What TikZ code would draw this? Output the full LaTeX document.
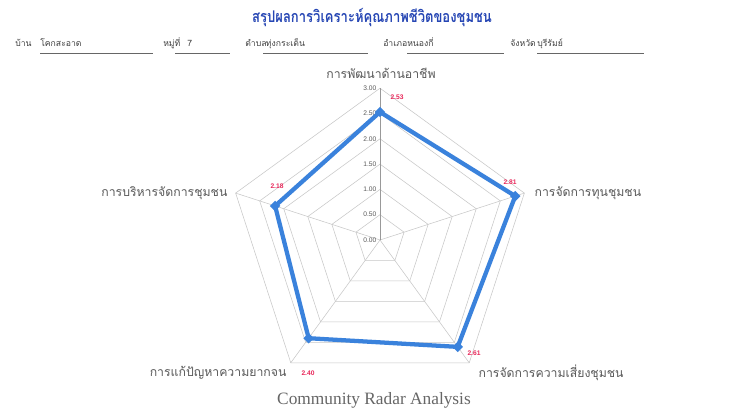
\documentclass[tikz,border=0pt]{standalone}
\usepackage{fontspec}
\usetikzlibrary{shapes.geometric}
\newfontfamily\thaifont[Script=Thai]{Loma}
\newfontfamily\numfont{Liberation Sans}
\newfontfamily\capfont{Liberation Serif}
\definecolor{chartblue}{RGB}{58,130,220}
\definecolor{titleblue}{RGB}{38,70,180}
\definecolor{valred}{RGB}{232,40,90}

\begin{document}
\begin{tikzpicture}[x=0.75pt,y=0.75pt]
	\tikzstyle{grid}=[draw=black!22,line width=0.4pt]
	\tikzstyle{axislabel}=[font=\thaifont\fontsize{9.2}{10}\selectfont,text=black!65,inner sep=1pt]
	\tikzstyle{head}=[font=\thaifont\fontsize{6.5}{8}\selectfont,text=black!75,inner sep=0pt,anchor=base west]
	\tikzstyle{uline}=[draw=black!60,line width=0.5pt]
	\tikzstyle{val}=[font=\numfont\bfseries\fontsize{5}{6}\selectfont,text=valred,inner sep=1pt]
	\tikzstyle{tick}=[font=\numfont\fontsize{5}{6}\selectfont,text=black!65,inner sep=1pt,anchor=east]
	\tikzstyle{point}=[diamond,fill=chartblue,inner sep=0pt,minimum size=8pt]
	\tikzstyle{dataline}=[draw=chartblue,line width=3.2pt,line join=round]
	\useasboundingbox (0,0) rectangle (741,408);
	\fill[white] (0,0) rectangle (741,408);
	% title and header
	\node[font=\thaifont\bfseries\fontsize{11.5}{14}\selectfont,text=titleblue] (title) at (372,390) {\scalebox{0.85}[1.05]{สรุปผลการวิเคราะห์คุณภาพชีวิตของชุมชน}};
	\node[head] (h1) at (15,361) {บ้าน};
	\node[head,text width=84pt,align=left] (f1) at (40,361) {โคกสะอาด};
	\node[head] (h2) at (163,361) {หมู่ที่};
	\node[head,text width=41pt,align=left] (f2) at (175,361) {\hspace*{9pt}7};
	\node[head] (h3) at (245,361) {ตำบล};
	\node[head,text width=78pt,align=left] (f3) at (263,361) {\hspace*{2pt}ทุ่งกระเต็น};
	\node[head] (h4) at (383,361) {อำเภอ};
	\node[head,text width=72pt,align=left] (f4) at (407,361) {หนองกี่};
	\node[head] (h5) at (510,361) {จังหวัด};
	\node[head,text width=79.5pt,align=left] (f5) at (537,361) {บุรีรัมย์};
	\draw[uline] ([yshift=-4.5pt]f1.base west) -- ([yshift=-4.5pt]f1.base east);
	\draw[uline] ([yshift=-4.5pt]f2.base west) -- ([yshift=-4.5pt]f2.base east);
	\draw[uline] ([yshift=-4.5pt]f3.base west) -- ([yshift=-4.5pt]f3.base east);
	\draw[uline] ([yshift=-4.5pt]f4.base west) -- ([yshift=-4.5pt]f4.base east);
	\draw[uline] ([yshift=-4.5pt]f5.base west) -- ([yshift=-4.5pt]f5.base east);
	% radar
	\begin{scope}[shift={(380,168)}]
		\foreach \r in {25.3,50.6,75.9,101.2,126.5,151.8}
			\draw[grid] (90:\r) -- (18:\r) -- (-54:\r) -- (-126:\r) -- (162:\r) -- cycle;
		\foreach \a in {18,-54,-126,162}
			\draw[grid] (0,0) -- (\a:151.8);
		\draw[draw=black!40,line width=0.4pt] (0,0) -- (90:151.8);
		\foreach \i/\t in {0/0.00,1/0.50,2/1.00,3/1.50,4/2.00,5/2.50,6/3.00}
			\node[tick] (t\i) at (-2,25.3*\i) {\t};
		\node[point] (p1) at (90:128) {};
		\node[point] (p2) at (18:142.2) {};
		\node[point] (p3) at (-54:132.1) {};
		\node[point] (p4) at (-126:121.4) {};
		\node[point] (p5) at (162:110.3) {};
		\draw[dataline] (p1.center) -- (p2.center) -- (p3.center) -- (p4.center) -- (p5.center) -- cycle;
	\end{scope}
	\node[axislabel] (a1) at (381,335) {การพัฒนาด้านอาชีพ};
	\node[axislabel,anchor=west] (a2) at (533,215) {การจัดการทุนชุมชน};
	\node[axislabel,anchor=west] (a3) at (477,35) {การจัดการความเสี่ยงชุมชน};
	\node[axislabel,anchor=east] (a4) at (288,35) {การแก้ปัญหาความยากจน};
	\node[axislabel,anchor=east] (a5) at (229,215) {การบริหารจัดการชุมชน};
	\node[val] (v1) at (397,311) {2.53};
	\node[val] (v2) at (510,226) {2.81};
	\node[val] (v3) at (474,55) {2.61};
	\node[val] (v4) at (308,35) {2.40};
	\node[val] (v5) at (277,222) {2.18};
	\node[font=\capfont\fontsize{13}{15}\selectfont,text=black!60] (cap) at (374,8) {Community Radar Analysis};
\end{tikzpicture}
\end{document}
